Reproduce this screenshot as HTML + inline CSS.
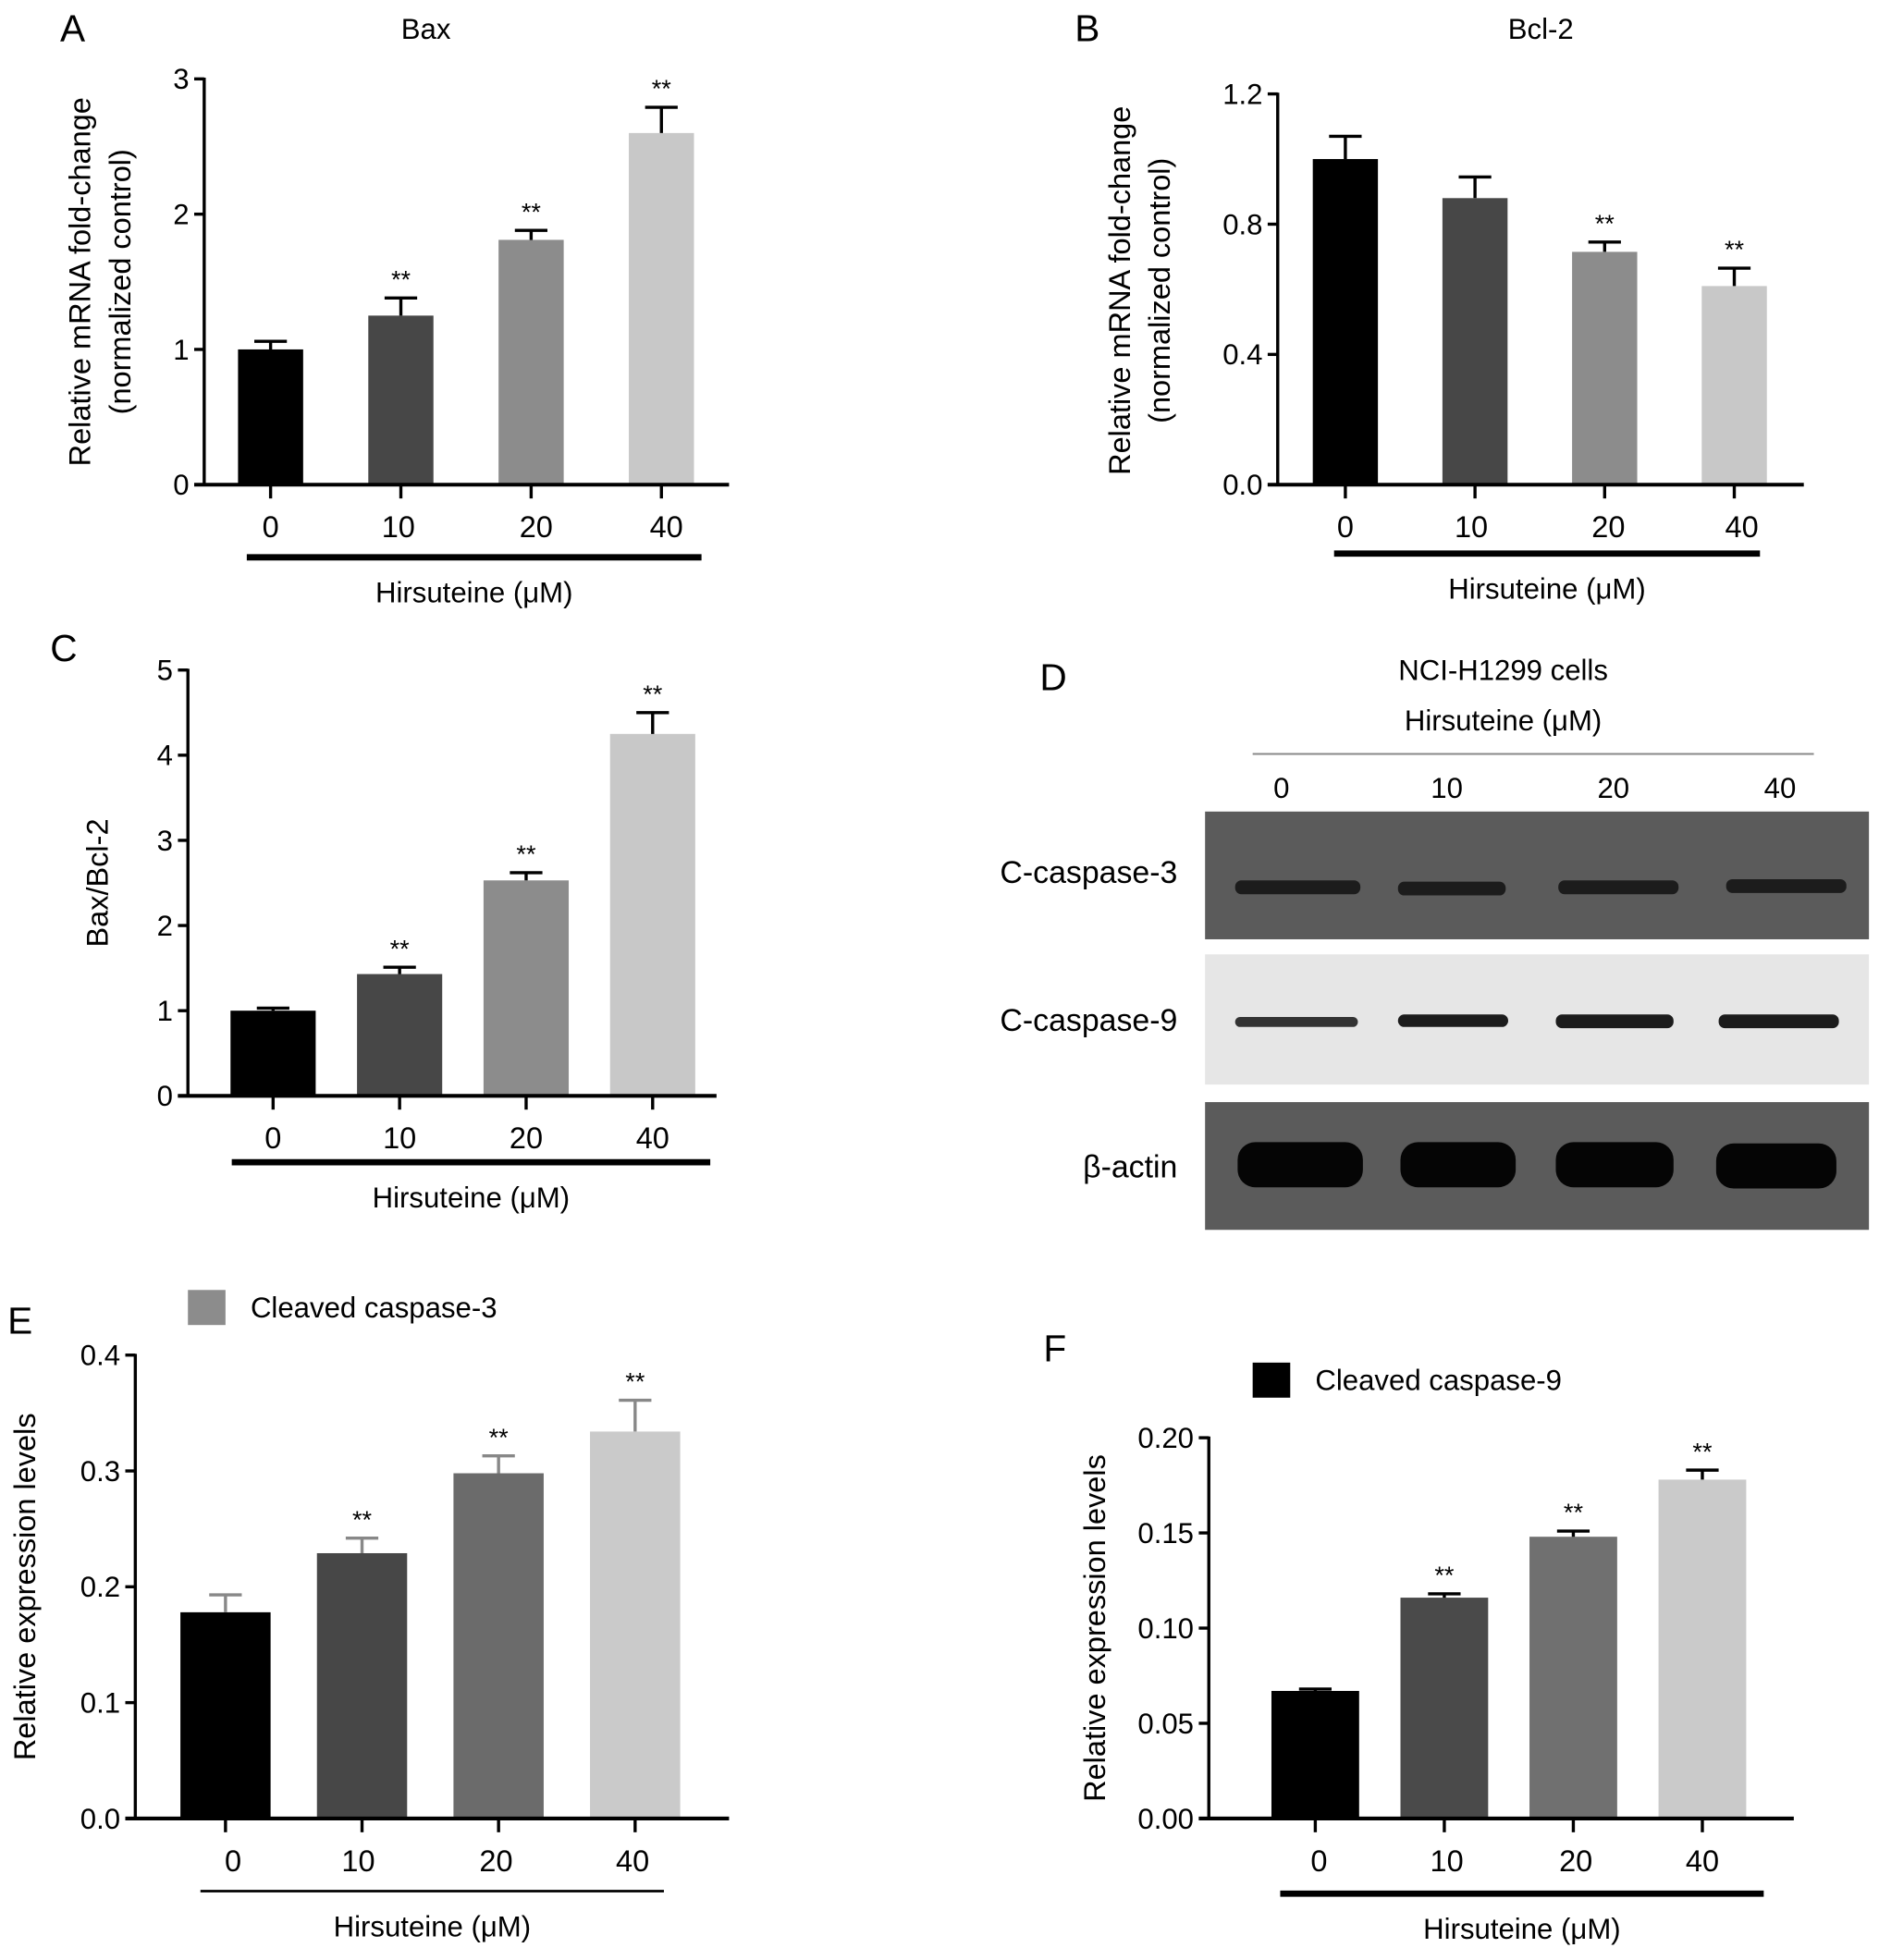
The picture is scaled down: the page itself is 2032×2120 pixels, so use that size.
<!DOCTYPE html>
<html><head><meta charset="utf-8"><style>
html,body{margin:0;padding:0;background:#fff;}
svg{display:block;font-family:"Liberation Sans",Arial,sans-serif;}
</style></head><body>
<svg id="fig" width="2032" height="2120" viewBox="0 0 1500 1565" xmlns="http://www.w3.org/2000/svg">
<rect x="0" y="0" width="1500" height="1565" fill="#fff"/>
<g id="charts"></g>
<g id="blot">
  <text x="830" y="551" font-size="30">D</text>
  <text x="1200" y="543" font-size="23" text-anchor="middle">NCI-H1299 cells</text>
  <text x="1200" y="583" font-size="23" text-anchor="middle">Hirsuteine (μM)</text>
  <line x1="1000" y1="602" x2="1448" y2="602" stroke="#888" stroke-width="1.5"/>
  <text x="1023" y="637" font-size="23" text-anchor="middle">0</text>
  <text x="1155" y="637" font-size="23" text-anchor="middle">10</text>
  <text x="1288" y="637" font-size="23" text-anchor="middle">20</text>
  <text x="1421" y="637" font-size="23" text-anchor="middle">40</text>
  <rect x="962" y="648" width="530" height="102" fill="#5b5b5b"/>
  <rect x="962" y="762" width="530" height="104" fill="#e6e6e6"/>
  <rect x="962" y="880" width="530" height="102" fill="#5b5b5b"/>
  <g fill="#1c1c1c">
    <rect x="986" y="703" width="100" height="11" rx="5"/>
    <rect x="1116" y="704" width="86" height="11" rx="5"/>
    <rect x="1244" y="703" width="96" height="11" rx="5"/>
    <rect x="1378" y="702" width="96" height="11" rx="5"/>
    <rect x="986" y="812" width="98" height="8" rx="4" fill="#333"/>
    <rect x="1116" y="810" width="88" height="10" rx="5"/>
    <rect x="1242" y="810" width="94" height="11" rx="5"/>
    <rect x="1372" y="810" width="96" height="11" rx="5"/>
    <rect x="988" y="912" width="100" height="36" rx="14" fill="#050505"/>
    <rect x="1118" y="912" width="92" height="36" rx="14" fill="#050505"/>
    <rect x="1242" y="912" width="94" height="36" rx="14" fill="#050505"/>
    <rect x="1370" y="913" width="96" height="36" rx="14" fill="#050505"/>
  </g>
  <text x="940" y="705" font-size="25" text-anchor="end">C-caspase-3</text>
  <text x="940" y="823" font-size="25" text-anchor="end">C-caspase-9</text>
  <text x="940" y="940" font-size="25" text-anchor="end">β-actin</text>
</g>
</svg>
<script>
const categories = ["0","10","20","40"];
const baxValues = [1.0, 1.25, 1.81, 2.6];
const baxErrors = [0.06, 0.13, 0.07, 0.19];
const baxTicks = ["0","1","2","3"];
const bcl2Values = [1.0, 0.88, 0.715, 0.61];
const bcl2Errors = [0.07, 0.065, 0.03, 0.055];
const bcl2Ticks = ["0.0","0.4","0.8","1.2"];
const ratioValues = [1.0, 1.43, 2.53, 4.25];
const ratioErrors = [0.03, 0.08, 0.09, 0.25];
const ratioTicks = ["0","1","2","3","4","5"];
const c3Values = [0.178, 0.229, 0.298, 0.334];
const c3Errors = [0.015, 0.013, 0.015, 0.027];
const c3Ticks = ["0.0","0.1","0.2","0.3","0.4"];
const c9Values = [0.067, 0.116, 0.148, 0.178];
const c9Errors = [0.001, 0.002, 0.003, 0.005];
const c9Ticks = ["0.00","0.05","0.10","0.15","0.20"];
const sig = ["", "**", "**", "**"];
const sigBcl = ["", "", "**", "**"];

const NS = "http://www.w3.org/2000/svg";
const root = document.getElementById("charts");
function mk(tag, attrs, parent, text){
  const e = document.createElementNS(NS, tag);
  for (const k in attrs) e.setAttribute(k, attrs[k]);
  if (text !== undefined) e.textContent = text;
  (parent || root).appendChild(e);
  return e;
}
function chart(c){
  const g = mk("g", {});
  
  
  const maxV = parseFloat(c.ticks[c.ticks.length-1]);
  const y = v => c.y0 - (v / maxV) * (c.y0 - c.yTop);
  const x = i => c.x0 + c.step * i;
  const ya = mk("line", {x1:c.ax, y1:c.yTop-1, x2:c.ax, y2:c.y0, stroke:"#000", "stroke-width":2.5}, g);
  
  
  c.ticks.forEach((t) => {
    const v = parseFloat(t);
    const tk = mk("line", {x1:c.ax-8, y1:y(v), x2:c.ax, y2:y(v), stroke:"#000", "stroke-width":2.5}, g);
    
    
    const tl = mk("text", {x:c.ax-12, y:y(v)+8, "font-size":23, "text-anchor":"end"}, g, t);
    
    
  });
  c.values.forEach((v, i) => {
    const b = mk("rect", {x:x(i)-c.bw/2, y:y(v), width:c.bw, height:c.y0-y(v), fill:c.colors[i]}, g);
    
    
    const top = y(v + c.errors[i]);
    const eb = mk("path", {d:`M${x(i)} ${y(v)} V${top} M${x(i)-13} ${top} H${x(i)+13}`, stroke:c.errColor[i], "stroke-width":2.5, fill:"none"}, g);
    
    
    if (c.sig[i]) {
      const s = mk("text", {x:x(i), y:top-8, "font-size":20, "text-anchor":"middle"}, g, c.sig[i]);
      
      
    }
    const tk = mk("line", {x1:x(i), y1:c.y0, x2:x(i), y2:c.y0+11, stroke:"#000", "stroke-width":2.5}, g);
    
    
    const xl = mk("text", {x:x(i) + (c.lblShift ? c.lblShift[i] : 0), y:c.y0+42, "font-size":24, "text-anchor":"middle"}, g, categories[i]);
    
    
  });
  const xa = mk("line", {x1:c.ax-8, y1:c.y0, x2:c.xEnd, y2:c.y0, stroke:"#000", "stroke-width":3}, g);
  
  
  const ul = mk("line", {x1:c.lineX1, y1:c.lineY, x2:c.lineX2, y2:c.lineY, stroke:"#000", "stroke-width":c.lineW}, g);
  
  
  const xt = mk("text", {x:(c.lineX1+c.lineX2)/2, y:c.lineY+36, "font-size":23, "text-anchor":"middle"}, g, "Hirsuteine (μM)");
  
  
  c.yLabel.forEach((l, k) => {
    const lx = c.yLabelX + k*32;
    const t = mk("text", {x:lx, y:c.yLabelY, "font-size":24, "text-anchor":"middle", transform:`rotate(-90 ${lx} ${c.yLabelY})`}, g, l);
    
    
  });
  const pl = mk("text", {x:c.letter[0], y:c.letter[1], "font-size":30}, g, c.letter[2]);
  
  
  if (c.title) {
    const tt = mk("text", {x:c.title[0], y:c.title[1], "font-size":23, "text-anchor":"middle"}, g, c.title[2]);
    
    
  }
  if (c.legend) {
    const lr = mk("rect", {x:c.legend[0], y:c.legend[1], width:30, height:28, fill:c.legend[2]}, g);
    
    
    const lt = mk("text", {x:c.legend[0]+50, y:c.legend[1]+22, "font-size":23}, g, c.legend[3]);
    
    
  }
}
const blk = ["#000","#000","#000","#000"];
chart({name:"bax-chart", ticks:baxTicks, values:baxValues, errors:baxErrors, sig:sig,
  ax:163, yTop:63, y0:387, x0:216, step:104, bw:52, xEnd:582,
  colors:["#000","#474747","#8c8c8c","#c8c8c8"], errColor:blk, lblShift:[0,-2,4,4],
  lineX1:197, lineX2:560, lineY:445, lineW:5, yLabel:["Relative mRNA fold-change","(normalized control)"],
  yLabelX:72, yLabelY:225, letter:[48,33,"A"], title:[340,31,"Bax"]});
chart({name:"bcl2-chart", ticks:bcl2Ticks, values:bcl2Values, errors:bcl2Errors, sig:sigBcl,
  ax:1020, yTop:75, y0:387, x0:1074, step:103.5, bw:52, xEnd:1440,
  colors:["#000","#474747","#8c8c8c","#c8c8c8"], errColor:blk, lblShift:[0,-3,3,6],
  lineX1:1065, lineX2:1405, lineY:442, lineW:5, yLabel:["Relative mRNA fold-change","(normalized control)"],
  yLabelX:902, yLabelY:232, letter:[858,33,"B"], title:[1230,31,"Bcl-2"]});
chart({name:"bax-bcl2-ratio-chart", ticks:ratioTicks, values:ratioValues, errors:ratioErrors, sig:sig,
  ax:150, yTop:535, y0:875, x0:218, step:101, bw:68, xEnd:572,
  colors:["#000","#474747","#8c8c8c","#c8c8c8"], errColor:blk,
  lineX1:185, lineX2:567, lineY:928, lineW:5, yLabel:["Bax/Bcl-2"],
  yLabelX:86, yLabelY:705, letter:[40,528,"C"]});
chart({name:"cleaved-caspase3-chart", ticks:c3Ticks, values:c3Values, errors:c3Errors, sig:sig,
  ax:108, yTop:1082, y0:1452, x0:180, step:109, bw:72, xEnd:582,
  colors:["#000","#474747","#6b6b6b","#cacaca"], errColor:["#888","#888","#888","#888"], lblShift:[6,-3,-2,-2],
  lineX1:160, lineX2:530, lineY:1510, lineW:2, yLabel:["Relative expression levels"],
  yLabelX:28, yLabelY:1267, letter:[6,1065,"E"], legend:[150,1030,"#8c8c8c","Cleaved caspase-3"]});
chart({name:"cleaved-caspase9-chart", ticks:c9Ticks, values:c9Values, errors:c9Errors, sig:sig,
  ax:965, yTop:1148, y0:1452, x0:1050, step:103, bw:70, xEnd:1432,
  colors:["#000","#4a4a4a","#707070","#cacaca"], errColor:blk, lblShift:[3,2,2,0],
  lineX1:1022, lineX2:1408, lineY:1512, lineW:5, yLabel:["Relative expression levels"],
  yLabelX:882, yLabelY:1300, letter:[833,1087,"F"], legend:[1000,1088,"#000","Cleaved caspase-9"]});
</script>
</body></html>
